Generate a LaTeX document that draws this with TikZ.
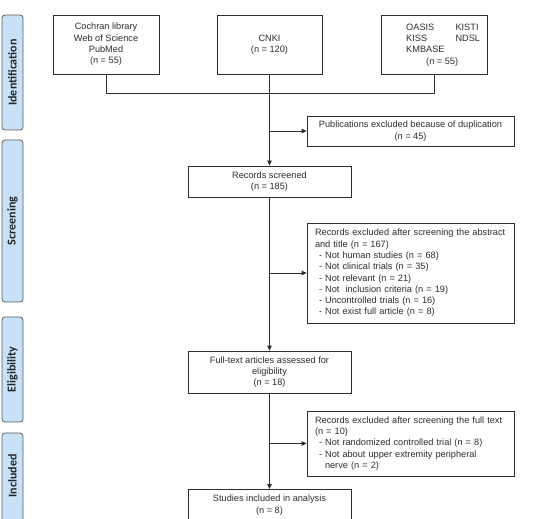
\documentclass[tikz,border=0pt]{standalone}
\usepackage{fontspec}
\setmainfont{Liberation Sans}
\newfontfamily\tabfont{Carlito}
\usetikzlibrary{arrows.meta}
\definecolor{tabfill}{RGB}{200,225,246}
\definecolor{tabline}{RGB}{90,90,90}
\definecolor{ink}{RGB}{45,45,45}
\tikzset{
  box/.style={draw=ink, line width=0.8pt, fill=white, inner sep=0pt, text=ink,
    font=\fontsize{9.2}{11.3}\selectfont, align=center},
  leftbox/.style={box, align=left, inner xsep=8pt, text width=191pt, minimum width=207pt},
  tabbox/.style={draw=tabline, line width=0.8pt, fill=tabfill, rounded corners=3pt,
    inner sep=0pt, minimum width=21pt},
  tablabel/.style={rotate=90, font=\tabfont\bfseries\fontsize{12}{12}\selectfont, text=black!85},
  conn/.style={draw=ink, line width=0.8pt},
  arr/.style={conn, -{Triangle[length=5pt,width=4.5pt]}},
}
\begin{document}
\begin{tikzpicture}[x=1pt,y=-1pt]
\useasboundingbox (0,0) rectangle (534,518);
\clip (0,0) rectangle (534,518);
% stage tabs
\node[tabbox, minimum height=115pt] (t1) at (12.5,72.5) {};
\node[tablabel] (l1) at (t1.center) {Identification};
\node[tabbox, minimum height=162pt] (t2) at (12.5,221) {};
\node[tablabel] (l2) at (t2.center) {Screening};
\node[tabbox, minimum height=105pt] (t3) at (12.5,369.5) {};
\node[tablabel] (l3) at (t3.center) {Eligibility};
\node[tabbox, minimum height=115pt] (t4) at (12.5,490.5) {};
\node[tablabel] (l4) at (t4.center |- 0,476) {Included};
% sources
\node[box, minimum width=106pt, minimum height=59pt] (s1) at (106,44.5)
  {Cochran library\\Web of Science\\PubMed\\(n = 55)};
\node[box, minimum width=105pt, minimum height=59pt] (s2) at (269.5,44.5)
  {CNKI\\(n = 120)};
\node[box, minimum width=106pt, minimum height=59pt] (s3) at (434,44.5) {};
\node[text=ink, font=\fontsize{9.2}{11.3}\selectfont, anchor=north west, inner sep=0pt] (s3t) at (406,22)
  {\begin{tabular}{@{}l@{\hspace{11pt}}l@{}}OASIS & KISTI\\KISS & NDSL\\KMBASE & \\
   \multicolumn{2}{@{}l@{}}{\hspace{20pt}(n = 55)}\end{tabular}};
% flow boxes
\node[box, minimum width=207pt, minimum height=30pt] (dup) at (410.5,131)
  {Publications excluded because of duplication\\(n = 45)};
\node[box, minimum width=163pt, minimum height=31pt] (scr) at (269.5,181.5)
  {Records screened\\(n = 185)};
\node[leftbox, minimum height=100pt] (ex1) at (410.5,273)
  {Records excluded after screening the abstract\\and title (n = 167)\\
   \hspace*{4pt}- Not human studies (n = 68)\\
   \hspace*{4pt}- Not clinical trials (n = 35)\\
   \hspace*{4pt}- Not relevant (n = 21)\\
   \hspace*{4pt}- Not \ inclusion criteria (n = 19)\\
   \hspace*{4pt}- Uncontrolled trials (n = 16)\\
   \hspace*{4pt}- Not exist full article (n = 8)};
\node[box, minimum width=163pt, minimum height=42pt] (ft) at (269.5,372)
  {Full-text articles assessed for\\eligibility\\(n = 18)};
\node[leftbox, minimum height=65pt] (ex2) at (410.5,443.5)
  {Records excluded after screening the full text\\(n = 10)\\
   \hspace*{4pt}- Not randomized controlled trial (n = 8)\\
   \hspace*{4pt}- Not about upper extremity peripheral\\
   \hspace*{10pt}nerve (n = 2)};
\node[box, minimum width=163pt, minimum height=42pt, anchor=north] (inc) at (269.5,489) {};
\node[text=ink, font=\fontsize{9.2}{11.3}\selectfont, align=center, anchor=north, inner sep=0pt] (inct) at (269.5,495)
  {Studies included in analysis\\(n = 8)};
% connectors
\coordinate (j) at (s2.south |- 0,93);
\draw[conn] (s1.south) -- (s1.south |- j) -- (s3.south |- j) -- (s3.south);
\draw[arr] (s2.south) -- (scr.north);
\draw[arr] (s2.south |- dup.west) -- (dup.west);
\draw[arr] (scr.south) -- (ft.north);
\draw[arr] (scr.south |- ex1.west) -- (ex1.west);
\draw[arr] (ft.south) -- (inc.north);
\draw[arr] (ft.south |- ex2.west) -- (ex2.west);
\end{tikzpicture}
\end{document}
